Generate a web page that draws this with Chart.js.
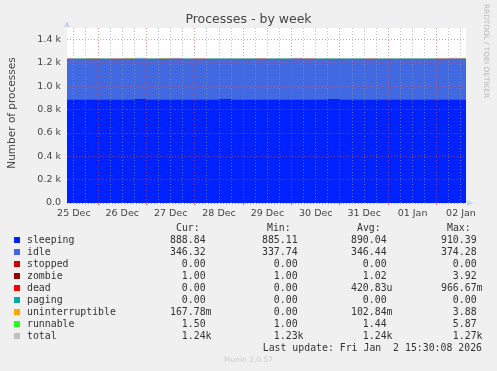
<!DOCTYPE html>
<html>
<head>
<meta charset="utf-8">
<script src="https://cdn.jsdelivr.net/npm/chart.js@4/dist/chart.umd.min.js"></script>
<style>
  body { margin: 0; background: #f0f0f0; }
  #wrap { position: relative; width: 497px; height: 371px; overflow: hidden; background: #f0f0f0; }
  #chart { position: absolute; left: 0; top: 0; }
  .t { position: absolute; white-space: pre; color: #333; font-family: "DejaVu Sans", sans-serif; }
  .m { position: absolute; white-space: pre; color: #333; font-family: "DejaVu Sans Mono", monospace; font-size: 9.85px; line-height: 12px; }
  .sw { position: absolute; width: 6px; height: 6px; }
</style>
</head>
<body>
<div id="wrap">
  <canvas id="chart" width="497" height="371"></canvas>
  <div class="t" id="title" style="left:0;width:497px;top:11px;text-align:center;font-size:12.5px;color:#444;">Processes - by week</div>
  <div class="t" style="left:-50px;top:107px;width:122px;text-align:center;font-size:10.5px;color:#444;transform:rotate(-90deg);">Number of processes</div>
  <div class="t" style="left:482px;top:4px;font-size:7.3px;color:#bbb;writing-mode:vertical-rl;">RRDTOOL / TOBI OETIKER</div>
  <div id="legend"></div>
  <div class="m" style="right:15px;top:342px;">Last update: Fri Jan  2 15:30:08 2026</div>
  <div class="t" style="left:0;width:497px;top:355px;text-align:center;font-size:7.5px;color:#ccc;">Munin 2.0.57</div>
</div>
<script>
// time in hours since 25 Dec 00:00
const hours = [6, 12, 18, 24, 30, 36, 42, 48, 54, 60, 66, 72, 78, 84, 90, 96, 102, 108,
  114, 120, 126, 132, 138, 144, 150, 156, 162, 168, 174, 180, 186, 192, 198, 204, 210];
const dayLabels = ["25 Dec", "26 Dec", "27 Dec", "28 Dec", "29 Dec", "30 Dec", "31 Dec", "01 Jan", "02 Jan"];

const sleeping = [889, 890, 889, 890, 890, 889, 891, 890, 889, 890, 890, 889, 890, 891, 890, 889, 889, 890,
  890, 890, 889, 890, 891, 890, 889, 889, 890, 890, 889, 890, 890, 889, 890, 889, 889];
const idle = [346, 346, 346, 346, 345, 346, 347, 346, 346, 347, 346, 346, 346, 345, 346, 347, 346, 346,
  346, 347, 346, 346, 345, 346, 347, 346, 346, 346, 347, 346, 346, 346, 347, 346, 346];
const stopped = [0, 0, 0, 0, 0, 0, 0, 0, 0, 0, 0, 0, 0, 0, 0, 0, 0, 0,
  0, 0, 0, 0, 0, 0, 0, 0, 0, 0, 0, 0, 0, 0, 0, 0, 0];
const zombie = [1, 1, 1, 1, 1, 1, 1.2, 1, 1, 1, 1, 1, 1, 1, 1, 1, 1, 1,
  1, 1, 1, 1, 1, 1, 1, 1, 1, 1, 1, 1, 1, 1, 1, 1, 1];
const dead = [0, 0, 0, 0, 0, 0, 0, 0, 0, 0, 0, 0, 0, 0, 0, 0, 0, 0,
  0, 0, 0, 0, 0, 0, 0, 0, 0, 0, 0, 0, 0, 0, 0, 0, 0];
const paging = [0, 0, 0, 0, 0, 0, 0, 0, 0, 0, 0, 0, 0, 0, 0, 0, 0, 0,
  0, 0, 0, 0, 0, 0, 0, 0, 0, 0, 0, 0, 0, 0, 0, 0, 0];
const uninterruptible = [0.1, 0.1, 0.2, 0.1, 0.1, 0.1, 0.1, 0.1, 0.1, 0.2, 0.1, 0.1, 0.1, 0.1, 0.1, 0.1, 0.1, 0.1,
  0.1, 0.1, 0.1, 0.1, 0.1, 0.1, 0.1, 0.1, 0.1, 0.1, 0.1, 0.1, 0.1, 0.1, 0.1, 0.2, 0.2];
const runnable = [1.4, 1.5, 1.4, 1.4, 1.3, 1.5, 1.4, 1.4, 1.5, 1.4, 1.4, 1.3, 1.4, 1.5, 1.4, 1.4, 1.4, 1.5,
  1.4, 1.4, 1.3, 1.4, 1.5, 1.4, 1.4, 1.4, 1.5, 1.4, 1.4, 1.4, 1.5, 1.4, 1.4, 1.5, 1.5];
const total = [1238, 1239, 1238, 1238, 1237, 1238, 1241, 1238, 1238, 1240, 1239, 1238, 1238, 1239, 1238, 1239, 1238, 1239,
  1239, 1240, 1238, 1239, 1239, 1239, 1239, 1238, 1239, 1239, 1239, 1239, 1239, 1238, 1240, 1238, 1238];

const yTicks = [0, 100, 200, 300, 400, 500, 600, 700, 800, 900, 1000, 1100, 1200, 1300, 1400, 1500];

// legend table
const names = ["sleeping", "idle", "stopped", "zombie", "dead", "paging", "uninterruptible", "runnable", "total"];
const colors = ["#0022ff", "#4169e1", "#cc0000", "#990000", "#ff0000", "#00aaaa", "#ffa500", "#22ff22", "#c0c0c0"];
const curVals = ["888.84", "346.32", "  0.00", "  1.00", "  0.00", "  0.00", "167.78m", "  1.50", "  1.24k"];
const minVals = ["885.11", "337.74", "  0.00", "  1.00", "  0.00", "  0.00", "  0.00", "  1.00", "  1.23k"];
const avgVals = ["890.04", "346.44", "  0.00", "  1.02", "420.83u", "  0.00", "102.84m", "  1.44", "  1.24k"];
const maxVals = ["910.39", "374.28", "  0.00", "  3.92", "966.67m", "  0.00", "  3.88", "  5.87", "  1.27k"];

const legend = document.getElementById("legend");
let html = '<div class="m" style="left:176px;top:222px;">Cur:</div>' +
  '<div class="m" style="left:267px;top:222px;">Min:</div>' +
  '<div class="m" style="left:357px;top:222px;">Avg:</div>' +
  '<div class="m" style="left:447px;top:222px;">Max:</div>';
names.forEach((n, i) => {
  const top = 234 + i * 12;
  html += `<div class="sw" style="left:14px;top:${top + 3}px;background:${colors[i]};"></div>`;
  html += `<div class="m" style="left:27px;top:${top}px;">${n}</div>`;
  html += `<div class="m" style="left:170px;top:${top}px;">${curVals[i]}</div>`;
  html += `<div class="m" style="left:262px;top:${top}px;">${minVals[i]}</div>`;
  html += `<div class="m" style="left:351px;top:${top}px;">${avgVals[i]}</div>`;
  html += `<div class="m" style="left:441px;top:${top}px;">${maxVals[i]}</div>`;
});
legend.innerHTML = html;

const pts = (arr) => arr.map((v, i) => ({ x: hours[i], y: v }));

function area(label, arr, color, fill) {
  return {
    label: label,
    data: pts(arr),
    backgroundColor: color,
    borderColor: color,
    borderWidth: 0,
    pointRadius: 0,
    fill: fill,
    stepped: true,
    stack: "procs",
  };
}

// white plot background and the axis arrows
const rrdDecor = {
  id: "rrdDecor",
  beforeDraw(c) {
    const a = c.chartArea;
    const ctx = c.ctx;
    ctx.save();
    ctx.fillStyle = "#ffffff";
    ctx.fillRect(a.left, a.top, a.right - a.left, a.bottom - a.top);
    ctx.restore();
  },
  afterDraw(c) {
    const a = c.chartArea;
    const ctx = c.ctx;
    ctx.save();
    ctx.fillStyle = "#c8d2f4";
    ctx.beginPath();
    ctx.moveTo(a.left - 3, a.top - 1);
    ctx.lineTo(a.left + 3, a.top - 1);
    ctx.lineTo(a.left, a.top - 7);
    ctx.closePath();
    ctx.fill();
    ctx.beginPath();
    ctx.moveTo(a.right + 1, a.bottom - 3);
    ctx.lineTo(a.right + 1, a.bottom + 3);
    ctx.lineTo(a.right + 7, a.bottom);
    ctx.closePath();
    ctx.fill();
    ctx.restore();
  },
};

const minorGrid = "rgba(160,160,160,0.6)";
const majorGrid = "rgba(230,80,80,0.6)";

new Chart(document.getElementById("chart").getContext("2d"), {
  type: "line",
  data: {
    datasets: [
      area("sleeping", sleeping, "#0022ff", "origin"),
      area("idle", idle, "#4169e1", "-1"),
      area("stopped", stopped, "#cc0000", "-1"),
      area("zombie", zombie, "#990000", "-1"),
      area("dead", dead, "#ff0000", "-1"),
      area("paging", paging, "#00aaaa", "-1"),
      area("uninterruptible", uninterruptible, "#ffa500", "-1"),
      area("runnable", runnable, "#22ff22", "-1"),
      {
        label: "total",
        data: pts(total),
        borderColor: "#c0c0c0",
        borderWidth: 1,
        pointRadius: 0,
        fill: false,
        stepped: true,
        stack: "total",
      },
    ],
  },
  options: {
    responsive: false,
    animation: false,
    layout: { padding: { top: 28, right: 31, bottom: 148, left: 0 } },
    plugins: { legend: { display: false }, tooltip: { enabled: false }, title: { display: false } },
    scales: {
      x: {
        type: "linear",
        min: 8.6,
        max: 206.5,
        afterBuildTicks(scale) {
          const t = [];
          for (let h = 12; h <= 204; h += 6) t.push({ value: h });
          scale.ticks = t;
        },
        afterFit(scale) { scale.height = 20; },
        grid: {
          z: 1,
          color: (ctx) => (ctx.tick && ctx.tick.value % 24 === 0 ? majorGrid : minorGrid),
          lineWidth: 1,
          drawTicks: true,
          tickLength: 2,
          tickColor: (ctx) => (ctx.tick && ctx.tick.value % 24 === 0 ? "rgba(230,80,80,0.8)" : "rgba(0,0,0,0)"),
        },
        border: { display: false, dash: [1, 2] },
        ticks: {
          autoSkip: false,
          maxRotation: 0,
          padding: 3,
          color: "#444",
          font: { family: "DejaVu Sans", size: 9.5 },
          callback: (v) => (v % 24 === 12 ? dayLabels[Math.floor(v / 24)] : ""),
        },
      },
      y: {
        stacked: true,
        min: 0,
        max: 1500,
        afterBuildTicks(scale) { scale.ticks = yTicks.map((v) => ({ value: v })); },
        afterFit(scale) { scale.width = 67; },
        grid: {
          z: 1,
          color: (ctx) => (ctx.tick && ctx.tick.value % 200 === 0 ? majorGrid : minorGrid),
          lineWidth: 1,
          drawTicks: false,
        },
        border: { display: false, dash: [1, 2] },
        ticks: {
          padding: 6,
          color: "#444",
          font: { family: "DejaVu Sans", size: 9.5 },
          callback: (v) => (v % 200 !== 0 ? "" : v === 0 ? "0.0" : (v / 1000).toFixed(1) + " k"),
        },
      },
    },
  },
  plugins: [rrdDecor],
});
</script>
</body>
</html>
